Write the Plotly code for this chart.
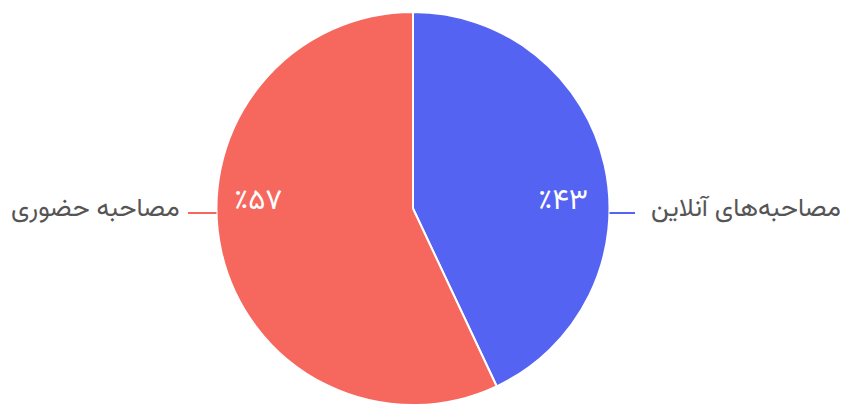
import plotly.graph_objects as go

labels = ['مصاحبه‌های آنلاین', 'مصاحبه حضوری']
values = [43, 57]
pct_text = ['٪۴۳', '٪۵۷']
colors = ['#5563F3', '#F6685E']

W, H = 843, 405
cx, cy, r = 413, 208.5, 196.5  # pixel geometry of pie (from top-left)

fig = go.Figure(go.Pie(
    labels=labels, values=values, sort=False, direction='clockwise', rotation=0,
    marker=dict(colors=colors, line=dict(color='white', width=2)),
    textinfo='none', hoverinfo='label+percent', showlegend=False,
    domain=dict(x=[(cx - r) / W, (cx + r) / W], y=[0, (2 * r) / H]),
))

def px(x):
    return x / W

def py(y):
    return (H - y) / H

font_family = 'Vazirmatn, DejaVu Sans, sans-serif'
ann = []
shapes = []
# inside percentage labels
ann.append(dict(x=px(563), y=py(202), xref='paper', yref='paper', text=pct_text[0], showarrow=False,
                font=dict(family=font_family, size=29, color='white'), xanchor='center', yanchor='middle'))
ann.append(dict(x=px(257.5), y=py(202), xref='paper', yref='paper', text=pct_text[1], showarrow=False,
                font=dict(family=font_family, size=29, color='white'), xanchor='center', yanchor='middle'))
# outside labels
ann.append(dict(x=px(843), y=py(209), xref='paper', yref='paper', text=labels[0], showarrow=False,
                font=dict(family=font_family, size=26, color='#555555'), xanchor='right', yanchor='middle'))
ann.append(dict(x=px(182), y=py(209), xref='paper', yref='paper', text=labels[1], showarrow=False,
                font=dict(family=font_family, size=26, color='#555555'), xanchor='right', yanchor='middle'))
# leader lines
shapes.append(dict(type='line', xref='paper', yref='paper', x0=px(cx + r), x1=px(635), y0=py(213), y1=py(213),
                   line=dict(color=colors[0], width=2)))
shapes.append(dict(type='line', xref='paper', yref='paper', x0=px(188), x1=px(cx - r), y0=py(213), y1=py(213),
                   line=dict(color=colors[1], width=2)))

fig.update_layout(width=W, height=H, margin=dict(l=0, r=0, t=0, b=0),
                  paper_bgcolor='white', plot_bgcolor='white',
                  annotations=ann, shapes=shapes)
fig.write_html('out.html')
